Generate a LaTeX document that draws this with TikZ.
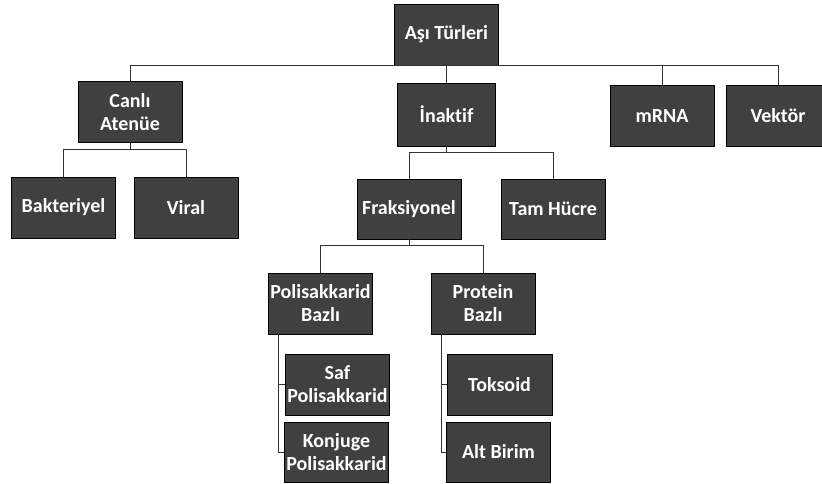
\documentclass[tikz,border=0pt]{standalone}
\usepackage{fontspec}
\setmainfont{Carlito}[Ligatures=NoCommon]
\usetikzlibrary{positioning}

\definecolor{kutu}{RGB}{64,64,64}

\begin{document}
\begin{tikzpicture}[x=1pt, y=-1pt,
    caixa/.style={draw=black, line width=0.8pt, fill=kutu, text=white,
      minimum width=104pt, minimum height=61pt, inner sep=1pt, align=center,
      font=\fontsize{20}{23}\selectfont\bfseries},
    liga/.style={draw=black!80, line width=1pt}]

  % Área da figura
  \useasboundingbox (0,0) rectangle (822,484);

  % Raiz
  \node[caixa] (asi) at (446.5,34.5) {Aşı Türleri};

  % Primeiro nível
  \node[caixa] (canli) at (130,112) {Canlı\\Atenüe};
  \node[caixa, minimum width=98pt, minimum height=63pt] (inaktif) at (446.5,114.5) {İnaktif};
  \node[caixa] (mrna) at (662,116) {mRNA};
  \node[caixa] (vektor) at (778,116) {Vektör};

  % Segundo nível
  \node[caixa] (bakteriyel) at (63.5,207.5) {Bakteriyel};
  \node[caixa] (viral) at (186,207.5) {Viral};
  \node[caixa, minimum height=60pt] (fraks) at (409,209) {Fraksiyonel};
  \node[caixa, minimum height=60pt] (tamhucre) at (553,209) {Tam Hücre};

  % Terceiro nível
  \node[caixa] (polis) at (320.5,303.5) {Polisakkarid\\Bazlı};
  \node[caixa] (protein) at (483,303.5) {Protein\\Bazlı};

  % Folhas
  \node[caixa] (saf) at (337.5,384.5) {Saf\\Polisakkarid};
  \node[caixa, minimum height=60pt] (konjuge) at (336.5,452) {Konjuge\\Polisakkarid};
  \node[caixa, minimum width=105pt] (toksoid) at (499.5,384.5) {Toksoid};
  \node[caixa, minimum height=60pt] (altbirim) at (498.5,452) {Alt Birim};

  % Ligações
  \draw[liga] (asi.south) -| (canli.north);
  \draw[liga] (asi.south) -- (inaktif.north);
  \draw[liga] (asi.south) -| (mrna.north);
  \draw[liga] (asi.south) -| (vektor.north);

  \draw[liga] (canli.south) -- ++(0,7) -| (bakteriyel.north);
  \draw[liga] (canli.south) -- ++(0,7) -| (viral.north);

  \draw[liga] (inaktif.south) -- ++(0,6) -| (fraks.north);
  \draw[liga] (inaktif.south) -- ++(0,6) -| (tamhucre.north);

  \draw[liga] (fraks.south) -- ++(0,6) -| (polis.north);
  \draw[liga] (fraks.south) -- ++(0,6) -| (protein.north);

  \draw[liga] ([xshift=10pt]polis.south west) |- (saf.west);
  \draw[liga] ([xshift=10pt]polis.south west) |- (konjuge.west);
  \draw[liga] ([xshift=11pt]protein.south west) |- (toksoid.west);
  \draw[liga] ([xshift=11pt]protein.south west) |- (altbirim.west);

\end{tikzpicture}
\end{document}
